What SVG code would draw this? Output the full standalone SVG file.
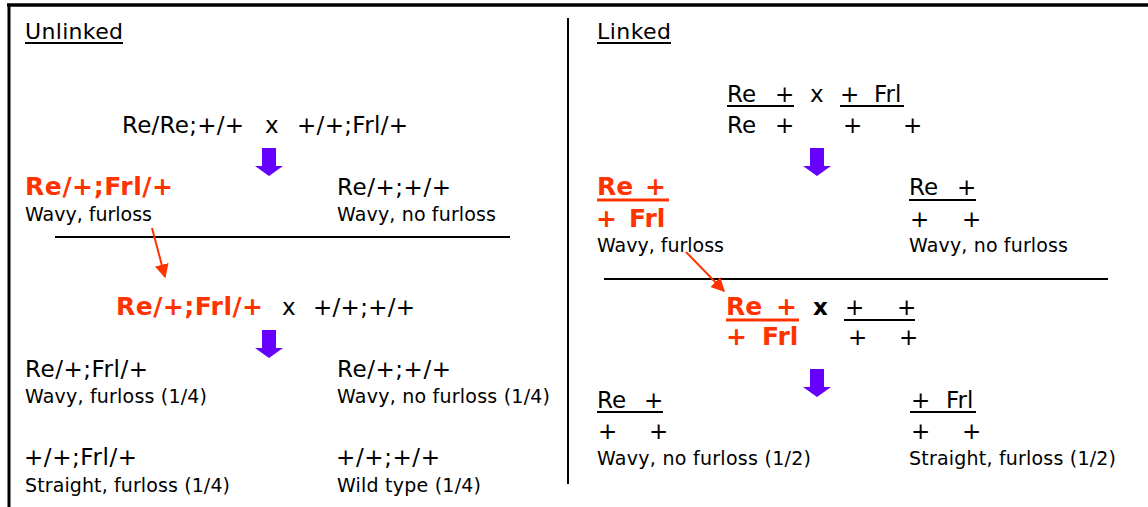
<svg xmlns="http://www.w3.org/2000/svg" width="1148" height="507" viewBox="0 0 1148 507">
<defs>
<style>
text{font-family:"DejaVu Sans","Verdana",sans-serif;fill:#000}
.h{font-size:22px}
.g{font-size:23px}
.d{font-size:19px}
.r{font-size:25px;font-weight:bold;fill:#ff3300}
.bx{font-size:23px;font-weight:bold}
.ul{stroke:#000;stroke-width:2}
.ulr{stroke:#ff3300;stroke-width:3}
.frame{stroke:#000;fill:none}
.rl{stroke:#ff3300;stroke-width:2;fill:none}
.pa{fill:#6600ff}
</style>
<marker id="ah" viewBox="0 0 10 10" refX="9" refY="5" markerWidth="7" markerHeight="7" orient="auto" markerUnits="strokeWidth">
<path d="M0,0 L10,5 L0,10 z" fill="#ff3300"/>
</marker>
<path id="parrow" d="M-7,0 H7 V18 H14 L0,28 L-14,18 H-7 Z"/>
</defs>
<rect width="1148" height="507" fill="#fff"/>
<g id="frame">
<line class="frame" x1="7" y1="5" x2="1148" y2="5" stroke-width="3.5"/>
<line class="frame" x1="9" y1="4" x2="9" y2="507" stroke-width="3"/>
<line class="frame" x1="568" y1="18" x2="568" y2="484" stroke-width="2"/>
<line class="frame" x1="55" y1="237" x2="510" y2="237" stroke-width="2"/>
<line class="frame" x1="604" y1="279" x2="1108" y2="279" stroke-width="2"/>
</g>
<g id="unlinked-title">
<text class="h" x="25" y="39" textLength="98">Unlinked</text>
<line class="ul" x1="25" y1="43" x2="123" y2="43" stroke-width="1.5"/>
</g>
<g id="u-cross1">
<text class="g" x="122" y="133" textLength="122">Re/Re;+/+</text>
<text class="g" x="265" y="133">x</text>
<text class="g" x="297" y="133" textLength="111">+/+;Frl/+</text>
</g>
<g id="u-f1a">
<text class="r" x="25" y="195" textLength="148">Re/+;Frl/+</text>
<text class="d" x="25" y="221" textLength="127">Wavy, furloss</text>
</g>
<g id="u-f1b">
<text class="g" x="337" y="195" textLength="114">Re/+;+/+</text>
<text class="d" x="337" y="221" textLength="159">Wavy, no furloss</text>
</g>
<g id="u-cross2">
<text class="r" x="116" y="315" textLength="147">Re/+;Frl/+</text>
<text class="g" x="282" y="315">x</text>
<text class="g" x="313" y="315" textLength="102">+/+;+/+</text>
</g>
<g id="u-o1">
<text class="g" x="25" y="377" textLength="123">Re/+;Frl/+</text>
<text class="d" x="25" y="403" textLength="182">Wavy, furloss (1/4)</text>
</g>
<g id="u-o2">
<text class="g" x="337" y="377" textLength="114">Re/+;+/+</text>
<text class="d" x="337" y="403" textLength="213">Wavy, no furloss (1/4)</text>
</g>
<g id="u-o3">
<text class="g" x="24" y="465" textLength="113">+/+;Frl/+</text>
<text class="d" x="25" y="492" textLength="205">Straight, furloss (1/4)</text>
</g>
<g id="u-o4">
<text class="g" x="336" y="465" textLength="104">+/+;+/+</text>
<text class="d" x="337" y="492" textLength="144">Wild type (1/4)</text>
</g>
<g id="linked-title">
<text class="h" x="597" y="39" textLength="74">Linked</text>
<line class="ul" x1="597" y1="43" x2="671" y2="43" stroke-width="1.5"/>
</g>
<g id="l-cross1">
<text class="g" x="727" y="102">Re</text>
<text class="g" x="775" y="102">+</text>
<line class="ul" x1="727" y1="106" x2="794" y2="106"/>
<text class="g" x="810" y="102">x</text>
<text class="g" x="840" y="102">+</text>
<text class="g" x="874" y="102">Frl</text>
<line class="ul" x1="840" y1="106" x2="904" y2="106"/>
<text class="g" x="727" y="133">Re</text>
<text class="g" x="775" y="133">+</text>
<text class="g" x="843" y="133">+</text>
<text class="g" x="903" y="133">+</text>
</g>
<g id="l-f1a">
<text class="r" x="597" y="195">Re</text>
<text class="r" x="645" y="195">+</text>
<line class="ulr" x1="597" y1="200" x2="669" y2="200"/>
<text class="r" x="596" y="227">+</text>
<text class="r" x="629" y="227">Frl</text>
<text class="d" x="597" y="252" textLength="127">Wavy, furloss</text>
</g>
<g id="l-f1b">
<text class="g" x="909" y="195">Re</text>
<text class="g" x="957" y="195">+</text>
<line class="ul" x1="909" y1="200" x2="976" y2="200"/>
<text class="g" x="910" y="227">+</text>
<text class="g" x="962" y="227">+</text>
<text class="d" x="909" y="252" textLength="159">Wavy, no furloss</text>
</g>
<g id="l-cross2">
<text class="r" x="726" y="315">Re</text>
<text class="r" x="776" y="315">+</text>
<line class="ulr" x1="726" y1="320" x2="799" y2="320"/>
<text class="bx" x="813" y="315">x</text>
<text class="g" x="845" y="315">+</text>
<text class="g" x="897" y="315">+</text>
<line class="ul" x1="844" y1="320" x2="915" y2="320"/>
<text class="r" x="726" y="345">+</text>
<text class="r" x="762" y="345">Frl</text>
<text class="g" x="848" y="345">+</text>
<text class="g" x="899" y="345">+</text>
</g>
<g id="l-o1">
<text class="g" x="597" y="408">Re</text>
<text class="g" x="644" y="408">+</text>
<line class="ul" x1="597" y1="412" x2="663" y2="412"/>
<text class="g" x="598" y="439">+</text>
<text class="g" x="649" y="439">+</text>
<text class="d" x="597" y="465" textLength="214">Wavy, no furloss (1/2)</text>
</g>
<g id="l-o2">
<text class="g" x="911" y="408">+</text>
<text class="g" x="946" y="408">Frl</text>
<line class="ul" x1="910" y1="412" x2="976" y2="412"/>
<text class="g" x="911" y="439">+</text>
<text class="g" x="962" y="439">+</text>
<text class="d" x="909" y="465" textLength="207">Straight, furloss (1/2)</text>
</g>
<g id="connectors">
<use href="#parrow" class="pa" x="269" y="148"/>
<use href="#parrow" class="pa" x="269" y="330"/>
<use href="#parrow" class="pa" x="817" y="148"/>
<use href="#parrow" class="pa" x="817" y="369"/>
<line class="rl" x1="152" y1="228" x2="165" y2="277" marker-end="url(#ah)"/>
<line class="rl" x1="686" y1="252" x2="724" y2="291" marker-end="url(#ah)"/>
</g>
</svg>
